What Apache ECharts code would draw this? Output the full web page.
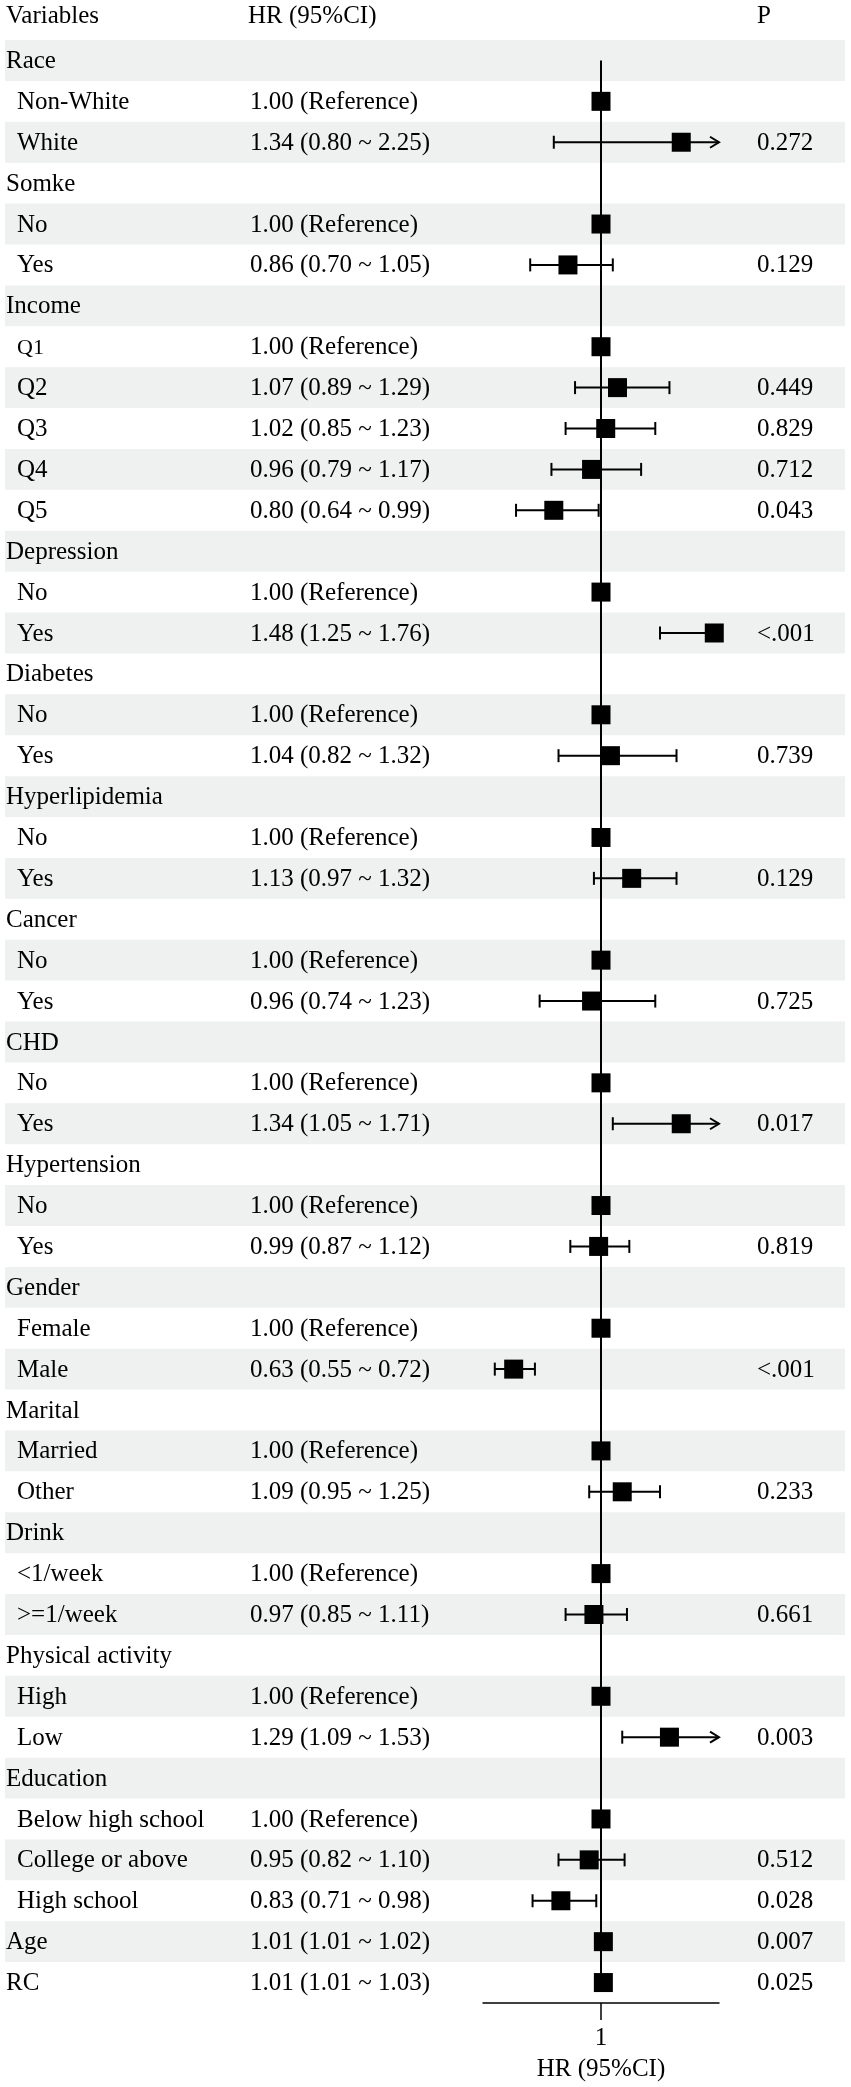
<!DOCTYPE html>
<html>
<head>
<meta charset="utf-8">
<script src="https://cdn.jsdelivr.net/npm/echarts@6/dist/echarts.min.js"></script>
<style>
html,body{margin:0;padding:0;background:#fff;}
#chart{width:851px;height:2087px;}
</style>
</head>
<body>
<div id="chart"></div>
<script>
// ---- data ----
var labels = ['Race','Non-White','White','Somke','No','Yes','Income','Q1','Q2','Q3','Q4','Q5',
  'Depression','No','Yes','Diabetes','No','Yes','Hyperlipidemia','No','Yes','Cancer','No','Yes',
  'CHD','No','Yes','Hypertension','No','Yes','Gender','Female','Male','Marital','Married','Other',
  'Drink','<1/week','>=1/week','Physical activity','High','Low','Education','Below high school',
  'College or above','High school','Age','RC'];
// 0 = variable heading, 1 = level (indented)
var indent = [0,1,1,0,1,1,0,1,1,1,1,1,0,1,1,0,1,1,0,1,1,0,1,1,0,1,1,0,1,1,0,1,1,0,1,1,0,1,1,0,1,1,0,1,1,1,0,0];
var hrText = ['','1.00 (Reference)','1.34 (0.80 ~ 2.25)','','1.00 (Reference)','0.86 (0.70 ~ 1.05)',
  '','1.00 (Reference)','1.07 (0.89 ~ 1.29)','1.02 (0.85 ~ 1.23)','0.96 (0.79 ~ 1.17)','0.80 (0.64 ~ 0.99)',
  '','1.00 (Reference)','1.48 (1.25 ~ 1.76)','','1.00 (Reference)','1.04 (0.82 ~ 1.32)',
  '','1.00 (Reference)','1.13 (0.97 ~ 1.32)','','1.00 (Reference)','0.96 (0.74 ~ 1.23)',
  '','1.00 (Reference)','1.34 (1.05 ~ 1.71)','','1.00 (Reference)','0.99 (0.87 ~ 1.12)',
  '','1.00 (Reference)','0.63 (0.55 ~ 0.72)','','1.00 (Reference)','1.09 (0.95 ~ 1.25)',
  '','1.00 (Reference)','0.97 (0.85 ~ 1.11)','','1.00 (Reference)','1.29 (1.09 ~ 1.53)',
  '','1.00 (Reference)','0.95 (0.82 ~ 1.10)','0.83 (0.71 ~ 0.98)','1.01 (1.01 ~ 1.02)','1.01 (1.01 ~ 1.03)'];
var pText = ['','','0.272','','','0.129','','','0.449','0.829','0.712','0.043','','','<.001','','','0.739',
  '','','0.129','','','0.725','','','0.017','','','0.819','','','<.001','','','0.233','','','0.661',
  '','','0.003','','','0.512','0.028','0.007','0.025'];
var est = [null,1,1.34,null,1,0.86,null,1,1.07,1.02,0.96,0.80,null,1,1.48,null,1,1.04,null,1,1.13,null,1,0.96,
  null,1,1.34,null,1,0.99,null,1,0.63,null,1,1.09,null,1,0.97,null,1,1.29,null,1,0.95,0.83,1.01,1.01];
var lower = [null,null,0.80,null,null,0.70,null,null,0.89,0.85,0.79,0.64,null,null,1.25,null,null,0.82,
  null,null,0.97,null,null,0.74,null,null,1.05,null,null,0.87,null,null,0.55,null,null,0.95,null,null,0.85,
  null,null,1.09,null,null,0.82,0.71,1.01,1.01];
var upper = [null,null,2.25,null,null,1.05,null,null,1.29,1.23,1.17,0.99,null,null,1.76,null,null,1.32,
  null,null,1.32,null,null,1.23,null,null,1.71,null,null,1.12,null,null,0.72,null,null,1.25,null,null,1.11,
  null,null,1.53,null,null,1.10,0.98,1.02,1.03];
var headers = ['Variables','HR (95%CI)','P'];
var xTicks = [1];
var xMin = 0.5, xMax = 1.5;

// ---- build ----
var FONT = '"Liberation Serif","Times New Roman",serif';
var FS = 25;
var rowIds = labels.map(function(l,i){ return i + ':' + l; });
var idx = labels.map(function(l,i){ return i; });

var bandData = idx.filter(function(i){ return i % 2 === 0; }).map(function(i){ return [1, i]; });
var textData = idx.map(function(i){ return [1, i]; });
var ciData = [];
var ptData = [];
idx.forEach(function(i){
  if (est[i] !== null) ptData.push([est[i], i]);
  if (lower[i] !== null) ciData.push([est[i], i, lower[i], upper[i]]);
});

var chart = echarts.init(document.getElementById('chart'), null, {renderer:'canvas'});
var option = {
  animation: false,
  backgroundColor: '#fff',
  grid: {left: 483, right: 132, top: 40, bottom: 84},
  xAxis: {
    type: 'value', min: xMin, max: xMax, interval: 0.5,
    splitLine: {show: false},
    axisLine: {show: true, onZero: false, lineStyle: {color: '#000', width: 1.5}},
    axisTick: {show: true, customValues: xTicks, length: 17, lineStyle: {color: '#000', width: 1.5}},
    axisLabel: {customValues: xTicks, margin: 23, fontSize: FS, fontFamily: FONT, color: '#000',
      formatter: function(v){ return Math.abs(v - 1) < 1e-9 ? '1' : ''; }},
    name: 'HR (95%CI)', nameLocation: 'middle', nameGap: 54,
    nameTextStyle: {fontSize: FS, fontFamily: FONT, color: '#000'}
  },
  yAxis: {type: 'category', data: rowIds, inverse: true, show: false, boundaryGap: true},
  graphic: [
    {type:'text', left: 6, top: 4, style:{text: headers[0], fontSize: FS, fontFamily: FONT, fill:'#000'}},
    {type:'text', left: 248, top: 4, style:{text: headers[1], fontSize: FS, fontFamily: FONT, fill:'#000'}},
    {type:'text', left: 757, top: 4, style:{text: headers[2], fontSize: FS, fontFamily: FONT, fill:'#000'}}
  ],
  series: [
    { // row bands
      type: 'custom', z: 1, silent: true, clip: false,
      encode: {x: 0, y: 1},
      data: bandData,
      renderItem: function(params, api){
        var c = api.coord([1, api.value(1)]);
        var h = api.size([0, 1])[1];
        return {type:'rect', shape:{x: 5, y: c[1] - h/2, width: 840, height: h},
          style:{fill:'#eef1f0'}};
      }
    },
    { // reference line at HR = 1
      type: 'line', z: 2, silent: true, symbol: 'none',
      data: [[1, 0], [1, labels.length - 1]],
      lineStyle: {color: '#000', width: 2}
    },
    { // confidence intervals
      type: 'custom', z: 3, silent: true, clip: false,
      encode: {x: 0, y: 1},
      data: ciData,
      renderItem: function(params, api){
        var row = api.value(1), lo = api.value(2), hi = api.value(3);
        var pl = api.coord([Math.max(lo, xMin), row]);
        var ph = api.coord([Math.min(hi, xMax), row]);
        var y = pl[1];
        var st = {stroke:'#000', lineWidth: 2, fill: null};
        var ch = [];
        ch.push({type:'line', shape:{x1: pl[0], y1: y, x2: ph[0], y2: y}, style: st});
        if (lo >= xMin) ch.push({type:'line', shape:{x1: pl[0], y1: y - 6.5, x2: pl[0], y2: y + 6.5}, style: st});
        if (hi <= xMax) ch.push({type:'line', shape:{x1: ph[0], y1: y - 6.5, x2: ph[0], y2: y + 6.5}, style: st});
        else ch.push({type:'polyline', shape:{points:[[ph[0]-9, y-5.5],[ph[0], y],[ph[0]-9, y+5.5]]}, style: st});
        return {type:'group', children: ch};
      }
    },
    { // point estimates
      type: 'scatter', z: 4, silent: true,
      symbol: 'rect', symbolSize: 19,
      itemStyle: {color: '#000', opacity: 1},
      data: ptData
    },
    { // table text
      type: 'custom', z: 5, silent: true, clip: false,
      encode: {x: 0, y: 1},
      data: textData,
      renderItem: function(params, api){
        var i = api.value(1);
        var c = api.coord([1, i]);
        var y = c[1] + 1;
        var ch = [];
        var fsL = (labels[i] === 'Q1') ? 22 : FS;
        ch.push({type:'text', x: indent[i] ? 17 : 6, y: y,
          style:{text: labels[i], fontSize: fsL, fontFamily: FONT, fill:'#000', align:'left', verticalAlign:'middle'}});
        if (hrText[i]) ch.push({type:'text', x: 250, y: y,
          style:{text: hrText[i], fontSize: FS, fontFamily: FONT, fill:'#000', align:'left', verticalAlign:'middle'}});
        if (pText[i]) ch.push({type:'text', x: 757, y: y,
          style:{text: pText[i], fontSize: FS, fontFamily: FONT, fill:'#000', align:'left', verticalAlign:'middle'}});
        return {type:'group', children: ch};
      }
    }
  ]
};
chart.setOption(option);
</script>
</body>
</html>
